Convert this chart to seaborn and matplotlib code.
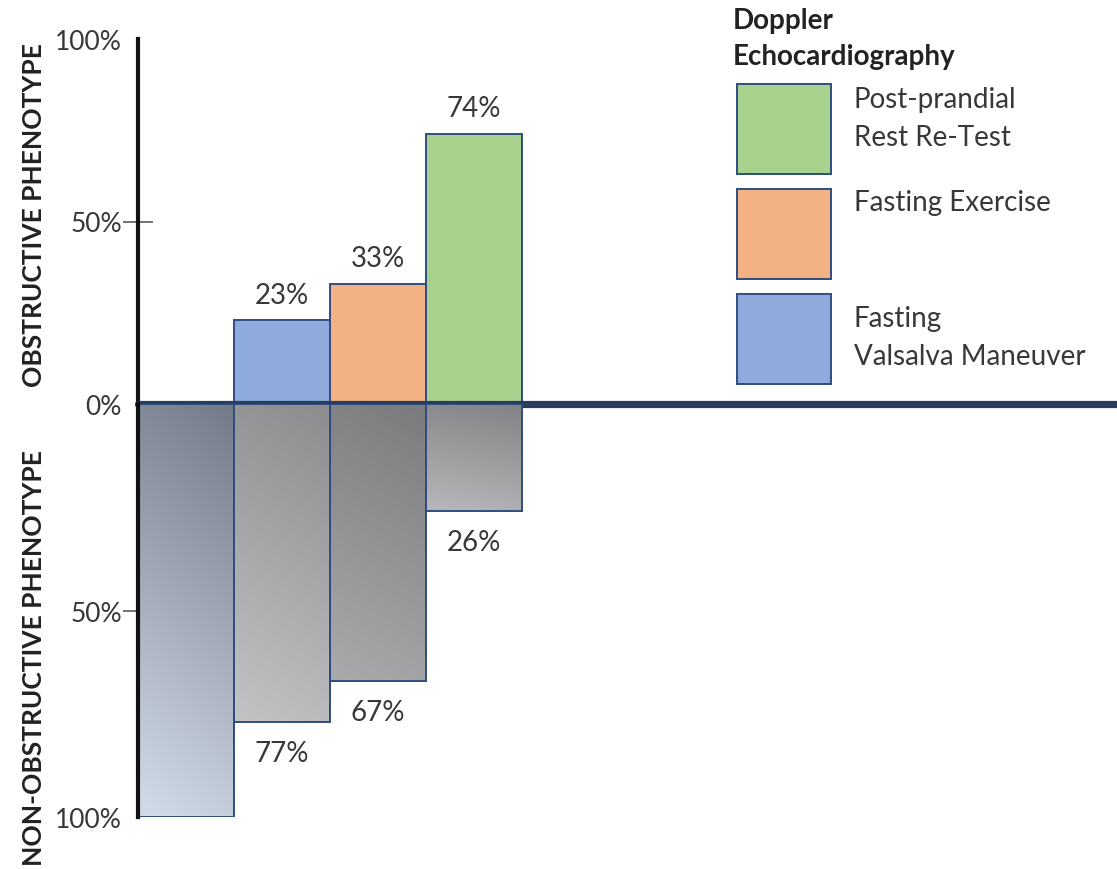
import numpy as np
import pandas as pd
import matplotlib
matplotlib.use("Agg")
import matplotlib.pyplot as plt
from matplotlib.patches import Rectangle
import seaborn as sns

# ---- data -------------------------------------------------------------
protocols = ["Fasting Rest", "Fasting Valsalva", "Fasting Exercise", "Post-prandial Re-Test"]
obstructive = [0, 23, 33, 74]          # % with obstructive phenotype
non_obstructive = [100, 77, 67, 26]    # % with non-obstructive phenotype
bar_colors = ["#ffffff", "#8faadc", "#f4b183", "#a9d18e"]
tick_values = [0, 50, 100]
tick_labels = ["0%", "50%", "100%"]

legend_labels = ["Post-prandial\nRest Re-Test", "Fasting Exercise", "Fasting\nValsalva Maneuver"]
legend_colors = ["#a9d18e", "#f4b183", "#8faadc"]
legend_title = "Doppler\nEchocardiography"

# grey shading (top colour, bottom colour) for the lower bars
shade_top = ["#737a88", "#8c8c8e", "#7b7b7d", "#828284"]
shade_bottom = ["#d3dce9", "#c3c3c5", "#aaaaac", "#b8b8ba"]

# ---- style ------------------------------------------------------------
sns.set_theme(style="white")
plt.rcParams["font.family"] = ["Lato", "DejaVu Sans"]

W, H = 1117, 870
fig = plt.figure(figsize=(W / 100, H / 100), dpi=100)


def fx(x):
    return x / W


def fy(y):
    return 1 - y / H


ax_left, ax_right = 138, 1117
zero_y, top_y, bot_y = 405, 40, 818
ax_top = fig.add_axes([fx(ax_left), fy(zero_y), fx(ax_right - ax_left), (zero_y - top_y) / H])
ax_bot = fig.add_axes([fx(ax_left), fy(bot_y), fx(ax_right - ax_left), (bot_y - zero_y) / H])

edge = "#2f4d80"
text_col = "#383838"

df_top = pd.DataFrame({"protocol": protocols, "value": obstructive})
df_bot = pd.DataFrame({"protocol": protocols, "value": non_obstructive})

sns.barplot(data=df_top, x="protocol", y="value", hue="protocol",
            palette=bar_colors, legend=False, width=1.0, ax=ax_top,
            edgecolor=edge, linewidth=1.4, saturation=1)
sns.barplot(data=df_bot, x="protocol", y="value", color="#999999",
            width=1.0, ax=ax_bot, edgecolor=edge, linewidth=1.4, saturation=1)

# gradient fill clipped to each lower bar
for i, p in enumerate(ax_bot.patches):
    c0 = np.array(matplotlib.colors.to_rgb(shade_top[i]))
    c1 = np.array(matplotlib.colors.to_rgb(shade_bottom[i]))
    ny, nx = 200, 40
    t = np.linspace(0, 1, ny)[:, None] * 0.85 + np.linspace(0.15, 0, nx)[None, :]
    t = np.clip(t, 0, 1)
    img = c0[None, None, :] * (1 - t[..., None]) + c1[None, None, :] * t[..., None]
    x0, w, h = p.get_x(), p.get_width(), p.get_height()
    im = ax_bot.imshow(img, extent=(x0, x0 + w, h, 0), origin="upper",
                       aspect="auto", zorder=1, interpolation="bilinear")
    im.set_clip_path(p)
    p.set_facecolor("none")
    p.set_zorder(2)

n_units = (ax_right - ax_left) / 96.0
for ax in (ax_top, ax_bot):
    ax.set_xlim(-0.5, -0.5 + n_units)
    ax.set_xlabel("")
    ax.set_ylabel("")
    ax.set_xticks([])
    for s in ("top", "right", "bottom"):
        ax.spines[s].set_visible(False)
    ax.spines["left"].set_color("#111111")
    ax.spines["left"].set_linewidth(3)
    ax.set_facecolor("none")

ax_top.set_ylim(0, 100)
ax_bot.set_ylim(100, 0)

ax_top.set_yticks(tick_values, tick_labels)
ax_bot.set_yticks(tick_values[1:], tick_labels[1:])
for ax in (ax_top, ax_bot):
    ax.tick_params(axis="y", left=True, direction="inout", length=22, width=1.3,
                   color="#666666", pad=0.5, labelsize=19, labelcolor=text_col)
    # only the 50% tick carries a visible mark
    for val, tk in zip(ax.get_yticks(), ax.yaxis.get_major_ticks()):
        if val != 50:
            tk.tick1line.set_visible(False)

# heavy zero line running to the right edge
ax_top.axhline(0, color="#2b3d5c", linewidth=5.2, zorder=5, clip_on=False)

# value labels
for i, p in enumerate(ax_top.patches[:len(protocols)]):
    v = obstructive[i]
    if v > 0:
        ax_top.annotate(f"{v}%", (p.get_x() + p.get_width() / 2, v),
                        xytext=(0, 9), textcoords="offset points",
                        ha="center", va="bottom", fontsize=20, color=text_col)
for i, p in enumerate(ax_bot.patches[:len(protocols)]):
    v = non_obstructive[i]
    if v < 100:
        ax_bot.annotate(f"{v}%", (p.get_x() + p.get_width() / 2, v),
                        xytext=(0, -13), textcoords="offset points",
                        ha="center", va="top", fontsize=20, color=text_col)

# phenotype axis titles
fig.text(fx(34), fy(215), "OBSTRUCTIVE PHENOTYPE", rotation=90, ha="center",
         va="center", fontsize=19, fontweight="bold", color="#222222")
fig.text(fx(34), fy(658), "NON-OBSTRUCTIVE PHENOTYPE", rotation=90, ha="center",
         va="center", fontsize=19, fontweight="bold", color="#222222")

# legend key
fig.text(fx(733), fy(39), legend_title, ha="left", va="center", fontsize=20,
         fontweight="bold", color="#222222", linespacing=1.47)
box_tops = [85, 190, 295]
text_centres = [119, 203, 338]
for top, tc, lab, col in zip(box_tops, text_centres, legend_labels, legend_colors):
    fig.add_artist(Rectangle((fx(737), fy(top + 90)), fx(94), 90 / H,
                             transform=fig.transFigure, facecolor=col,
                             edgecolor=edge, linewidth=1.4))
    fig.text(fx(854), fy(tc), lab, ha="left", va="center", fontsize=20,
             color=text_col, linespacing=1.61)

fig.savefig("out.png", dpi=100)
